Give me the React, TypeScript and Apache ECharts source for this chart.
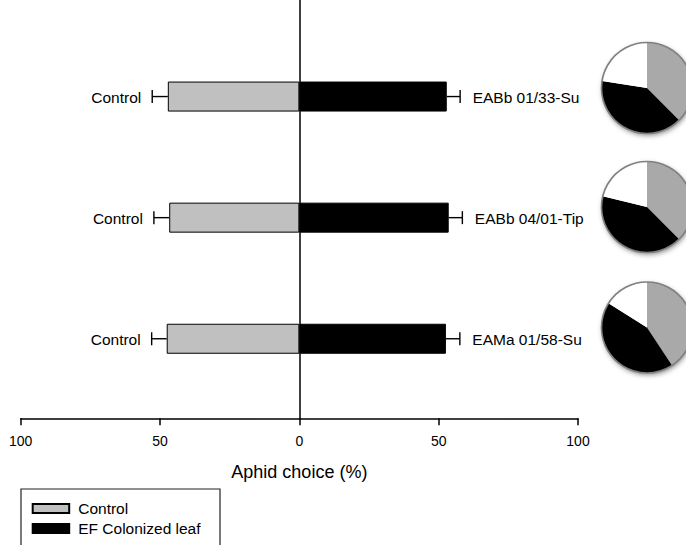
import React, { useEffect, useRef } from "react";
import * as echarts from "echarts";

// ---- data ----
const categories = ["EABb 01/33-Su", "EABb 04/01-Tip", "EAMa 01/58-Su"];
const leftLabels = ["Control", "Control", "Control"];
const controlValues = [47.2, 46.7, 47.6];
const colonizedValues = [52.9, 53.6, 52.6];
const controlErrors = [5.6, 5.5, 5.4];
const colonizedErrors = [4.8, 4.9, 5.0];
const xTickInterval = 50;
const pieNames = ["Control", "EF Colonized leaf", "No choice"];
const pieShares = [
  [37.5, 40.0, 22.5],
  [37.5, 41.3, 21.2],
  [40.7, 43.2, 16.1],
];

// ---- layout / style ----
const FONT = "Liberation Sans, Arial, sans-serif";
const GRID_LEFT = 20.7;
const GRID_RIGHT = 108;
const pieCenters = [
  [647, 88],
  [647, 207],
  [647, 327.5],
];
const PIE_R = 45.5;
const pieColors = ["#a9a9a9", "#000000", "#ffffff"];

export default function App() {
  const ref = useRef<HTMLDivElement>(null);

  useEffect(() => {
    if (!ref.current) return;
    const chart = echarts.init(ref.current, null, { renderer: "svg" });

    const errSeries = (side: "left" | "right") => ({
      type: "custom",
      xAxisIndex: 0,
      yAxisIndex: 0,
      silent: true,
      z: 5,
      data: categories.map((c, i) => [
        side === "left" ? -controlValues[i] : colonizedValues[i],
        i,
      ]),
      renderItem: (params: any, api: any) => {
        const i = params.dataIndex;
        const base = side === "left" ? -controlValues[i] : colonizedValues[i];
        const end =
          side === "left"
            ? -(controlValues[i] + controlErrors[i])
            : colonizedValues[i] + colonizedErrors[i];
        const p0 = api.coord([base, i]);
        const p1 = api.coord([end, i]);
        const cap = 6.5;
        const gap = side === "left" ? -11 : 12.5;
        const text = side === "left" ? leftLabels[i] : categories[i];
        return {
          type: "group",
          children: [
            {
              type: "line",
              shape: { x1: p0[0], y1: p0[1], x2: p1[0], y2: p1[1] },
              style: { stroke: "#000", lineWidth: 1.4 },
            },
            {
              type: "line",
              shape: { x1: p1[0], y1: p1[1] - cap, x2: p1[0], y2: p1[1] + cap },
              style: { stroke: "#000", lineWidth: 1.4 },
            },
            {
              type: "text",
              x: p1[0] + gap,
              y: p1[1] + 1,
              style: {
                text,
                fill: "#000",
                fontSize: 15.5,
                fontFamily: FONT,
                align: side === "left" ? "right" : "left",
                verticalAlign: "middle",
              },
            },
          ],
        };
      },
    });

    const pieSeries: any[] = [];
    pieCenters.forEach((center, k) => {
      pieSeries.push({
        type: "pie",
        silent: true,
        center,
        radius: PIE_R,
        z: 1,
        label: { show: false },
        labelLine: { show: false },
        itemStyle: {
          color: "#fff",
          shadowBlur: 5,
          shadowOffsetX: 1,
          shadowOffsetY: 2,
          shadowColor: "rgba(0,0,0,0.45)",
        },
        data: [{ value: 1, name: "shadow" + k }],
      });
      pieSeries.push({
        type: "pie",
        silent: true,
        center,
        radius: PIE_R,
        startAngle: 90,
        clockwise: true,
        z: 2,
        label: { show: false },
        labelLine: { show: false },
        data: pieShares[k].map((v, j) => ({
          value: v,
          name: pieNames[j],
          itemStyle: { color: pieColors[j] },
        })),
      });
      pieSeries.push({
        type: "pie",
        silent: true,
        center,
        radius: PIE_R,
        z: 3,
        label: { show: false },
        labelLine: { show: false },
        itemStyle: {
          color: "rgba(0,0,0,0)",
          borderColor: "#808080",
          borderWidth: 1.6,
        },
        data: [{ value: 1, name: "outline" + k }],
      });
    });

    chart.setOption({
      animation: false,
      textStyle: { fontFamily: FONT },
      grid: [
        { left: GRID_LEFT, right: GRID_RIGHT, top: 36, height: 363.3 },
        { left: GRID_LEFT, right: GRID_RIGHT, top: 0, height: 418.3 },
      ],
      xAxis: [
        { type: "value", gridIndex: 0, min: -100, max: 100, show: false },
        {
          type: "value",
          gridIndex: 1,
          min: -100,
          max: 100,
          interval: xTickInterval,
          axisLine: { show: true, onZero: true, lineStyle: { color: "#000", width: 1.5 } },
          axisTick: { show: true, length: 7, lineStyle: { color: "#000", width: 1.5 } },
          splitLine: { show: false },
          axisLabel: {
            margin: 16,
            color: "#000",
            fontSize: 14,
            fontFamily: FONT,
            formatter: (v: number) => String(Math.abs(v)),
          },
          name: "Aphid choice (%)",
          nameLocation: "middle",
          nameGap: 45,
          nameTextStyle: { color: "#000", fontSize: 18, fontFamily: FONT },
        },
      ],
      yAxis: [
        {
          type: "category",
          gridIndex: 0,
          data: categories,
          inverse: true,
          show: false,
        },
        {
          type: "value",
          gridIndex: 1,
          min: 0,
          max: 1,
          axisLine: { show: true, onZero: true, lineStyle: { color: "#000", width: 1.5 } },
          axisTick: { show: false },
          axisLabel: { show: false },
          splitLine: { show: false },
        },
      ],
      legend: {
        orient: "vertical",
        left: 31.7,
        top: 500.5,
        padding: 0,
        itemWidth: 36.5,
        itemHeight: 9,
        itemGap: 4,
        icon: "rect",
        selectedMode: false,
        data: ["Control", "EF Colonized leaf"],
        textStyle: {
          color: "#000",
          fontSize: 15.5,
          fontFamily: FONT,
          lineHeight: 16,
          padding: [0, 0, 0, 4],
        },
      },
      graphic: [
        {
          type: "rect",
          shape: { x: 21, y: 489, width: 199, height: 80 },
          style: { fill: "none", stroke: "#222", lineWidth: 1.2 },
          silent: true,
        },
      ],
      series: [
        {
          name: "Control",
          type: "bar",
          xAxisIndex: 0,
          yAxisIndex: 0,
          barWidth: 30,
          barGap: "-100%",
          itemStyle: { color: "#c0c0c0", borderColor: "#000", borderWidth: 1 },
          data: controlValues.map((v) => -v),
        },
        {
          name: "EF Colonized leaf",
          type: "bar",
          xAxisIndex: 0,
          yAxisIndex: 0,
          barWidth: 30,
          barGap: "-100%",
          itemStyle: { color: "#000", borderColor: "#000", borderWidth: 1 },
          data: colonizedValues,
        },
        errSeries("left"),
        errSeries("right"),
        ...pieSeries,
      ],
    });

    return () => chart.dispose();
  }, []);

  return (
    <div
      ref={ref}
      style={{ position: "fixed", left: 0, top: 0, width: 686, height: 545, background: "#fff" }}
    />
  );
}
